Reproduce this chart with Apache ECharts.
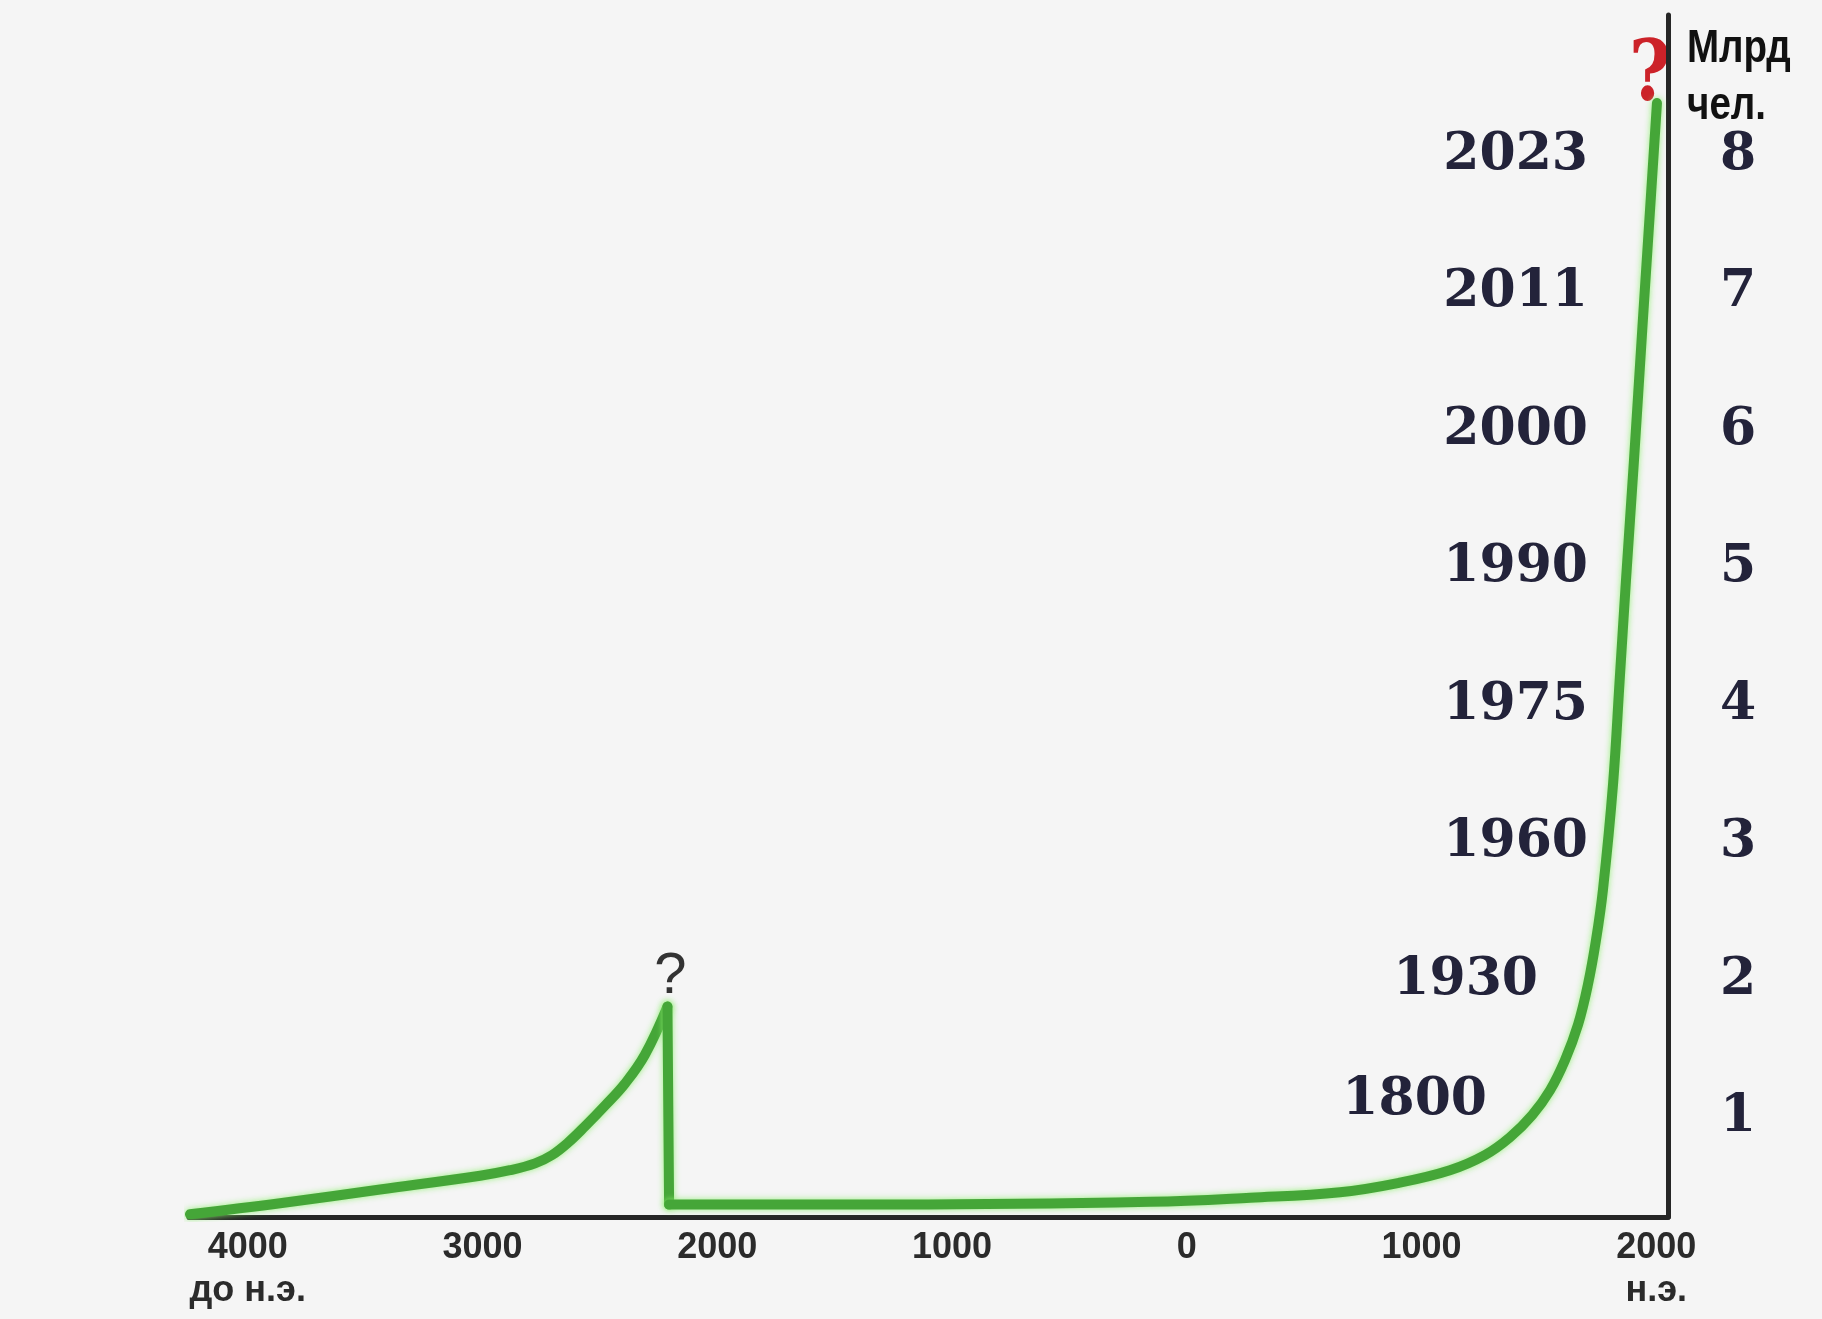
<!DOCTYPE html>
<html>
<head>
<meta charset="utf-8">
<script src="https://cdn.jsdelivr.net/npm/echarts@6/dist/echarts.min.js"></script>
<style>
  html, body { margin: 0; padding: 0; background: #f5f5f5; }
  #chart { width: 1822px; height: 1319px; }
</style>
</head>
<body>
<div id="chart"></div>
<script>
// ---- data ----
const xTickValues = [-4000, -3000, -2000, -1000, 0, 1000, 2000];
const xTickLabels = ['4000\nдо н.э.', '3000', '2000', '1000', '0', '1000', '2000\nн.э.'];
const yTickValues = [1, 2, 3, 4, 5, 6, 7, 8];
const yTickLabels = ['1', '2', '3', '4', '5', '6', '7', '8'];

// ancient growth up to the collapse (years, billions on the drawn scale)
const ancientYears = [-4246, -3862, -3436, -3010, -2883, -2776, -2704, -2636, -2563, -2478, -2393, -2308, -2212];
const ancientPop   = [0.30, 0.38, 0.48, 0.58, 0.62, 0.67, 0.73, 0.82, 0.94, 1.09, 1.25, 1.46, 1.81];

// collapse
const collapseYears = [-2212, -2205];
const collapsePop   = [1.81, 0.37];

// growth after the collapse
const modernYears = [-2205, -1221, -156, 270, 653, 908, 1121, 1270, 1377, 1471, 1547, 1611, 1667, 1709, 1743, 1773, 1816, 1844, 1871, 1905, 1941, 1965, 2003];
const modernPop   = [0.37, 0.37, 0.39, 0.42, 0.46, 0.53, 0.62, 0.73, 0.86, 1.02, 1.20, 1.42, 1.68, 1.97, 2.29, 2.66, 3.43, 4.18, 4.91, 5.78, 6.75, 7.38, 8.38];

// year annotations and the population level they mark
const yearMarks  = ['2023', '2011', '2000', '1990', '1975', '1960', '1930', '1800'];
const yearLevels = [8, 7, 6, 5, 4, 3, 2, 1.13];

const unitLines = ['Млрд', 'чел.'];

// ---- chart ----
const chart = echarts.init(document.getElementById('chart'));
const zip = (xs, ys) => xs.map((x, i) => [x, ys[i]]);

const XMIN = -4250, XMAX = 2050, YMIN = 0.28, YMAX = 9.02;
const lineStyle = {
  color: '#45a638', width: 10, cap: 'round', join: 'round',
  shadowColor: 'rgba(140,240,110,0.9)', shadowBlur: 6
};

chart.setOption({
  backgroundColor: '#f5f5f5',
  animation: false,
  grid: { left: 189, right: 154, top: 15, bottom: 102, containLabel: false },
  xAxis: {
    type: 'value', min: XMIN, max: XMAX,
    axisLine: { show: true, onZero: false, lineStyle: { color: '#262626', width: 5 } },
    axisTick: { show: false },
    splitLine: { show: false },
    axisLabel: {
      customValues: xTickValues,
      formatter: v => xTickLabels[xTickValues.indexOf(v)],
      fontFamily: 'Liberation Sans', fontWeight: 'bold', fontSize: 36,
      lineHeight: 43, color: '#2b2b2b', margin: 10
    }
  },
  yAxis: {
    type: 'value', position: 'right', min: YMIN, max: YMAX,
    axisLine: { show: true, onZero: false, lineStyle: { color: '#262626', width: 5 } },
    axisTick: { show: false },
    splitLine: { show: false },
    axisLabel: {
      customValues: yTickValues,
      formatter: v => yTickLabels[yTickValues.indexOf(v)],
      fontFamily: 'DejaVu Serif', fontWeight: 'bold', fontSize: 52,
      color: '#23233a', margin: 52
    }
  },
  series: [
    { type: 'line', data: zip(ancientYears, ancientPop), smooth: 0.4, showSymbol: false, lineStyle, silent: true },
    { type: 'line', data: zip(collapseYears, collapsePop), smooth: false, showSymbol: false, lineStyle, silent: true },
    { type: 'line', data: zip(modernYears, modernPop), smooth: 0.4, showSymbol: false, lineStyle, silent: true }
  ]
});

// ---- annotations placed through the chart's scales ----
const toPx = p => chart.convertToPixel({ gridIndex: 0 }, p);
const axisRightX = toPx([XMAX, YMIN])[0];
const yearGap = { '1930': 130, '1800': 181 };
const graphics = [];

yearMarks.forEach((t, i) => {
  const yy = toPx([XMAX, yearLevels[i]])[1];
  graphics.push({
    type: 'text', x: axisRightX - (yearGap[t] || 80), y: yy,
    style: { text: t, font: 'bold 52px "DejaVu Serif"', fill: '#23233a', align: 'right', verticalAlign: 'middle' }
  });
});

const endPt = toPx([modernYears[modernYears.length - 1], modernPop[modernPop.length - 1]]);
graphics.push({
  type: 'text', x: endPt[0] - 7, y: endPt[1] - 25, scaleX: 0.85,
  style: { text: '?', font: 'bold 84px "DejaVu Serif"', fill: '#cc2229', align: 'center', verticalAlign: 'middle' }
});

const peakPt = toPx([ancientYears[ancientYears.length - 1], ancientPop[ancientPop.length - 1]]);
graphics.push({
  type: 'text', x: peakPt[0] + 3, y: peakPt[1] - 30,
  style: { text: '?', font: 'normal 58px "Liberation Sans"', fill: '#333333', align: 'center', verticalAlign: 'middle' }
});

graphics.push({
  type: 'text', x: axisRightX + 19, y: 49, scaleX: 0.82,
  style: { text: unitLines[0], font: 'bold 47px "Liberation Sans"', fill: '#111111', align: 'left', verticalAlign: 'middle' }
});
graphics.push({
  type: 'text', x: axisRightX + 19, y: 106, scaleX: 0.82,
  style: { text: unitLines[1], font: 'bold 47px "Liberation Sans"', fill: '#111111', align: 'left', verticalAlign: 'middle' }
});

chart.setOption({ graphic: graphics });
</script>
</body>
</html>
